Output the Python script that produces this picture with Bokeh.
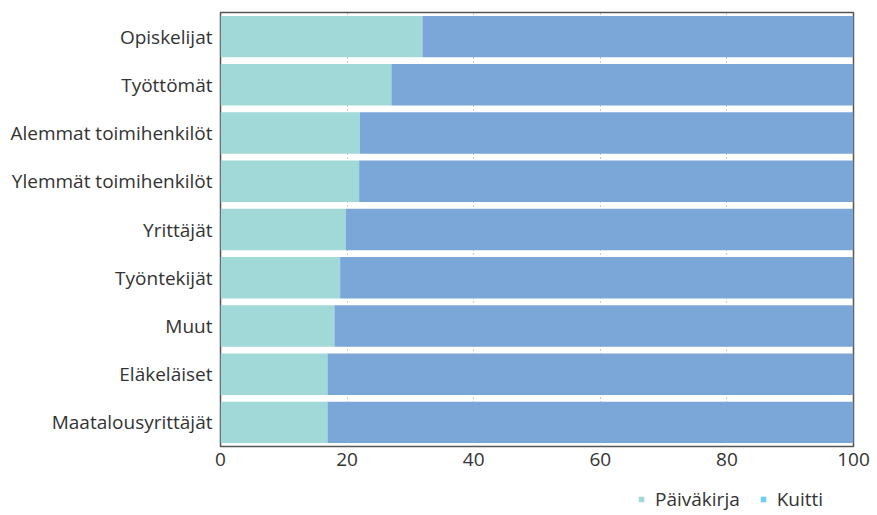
from bokeh.plotting import figure
from bokeh.layouts import column
from bokeh.models import ColumnDataSource, Legend, LegendItem, FactorRange, Range1d, FixedTicker
from bokeh.embed import file_html
from bokeh.resources import INLINE

categories = ["Opiskelijat", "Työttömät", "Alemmat toimihenkilöt", "Ylemmät toimihenkilöt",
              "Yrittäjät", "Työntekijät", "Muut", "Eläkeläiset", "Maatalousyrittäjät"]
paivakirja = [31.9, 27.0, 22.0, 21.9, 19.8, 18.9, 18.0, 16.9, 16.9]
kuitti = [68.1, 73.0, 78.0, 78.1, 80.2, 81.1, 82.0, 83.1, 83.1]
series_names = ["Päiväkirja", "Kuitti"]
x_ticks = [0, 20, 40, 60, 80, 100]

FONT = "Open Sans"
TEAL = "#a0d9d8"
BLUE = "#7ba6d8"
LEG_BLUE = "#6dcff6"

src = ColumnDataSource(dict(
    cat=categories,
    p_end=paivakirja,
    k_start=paivakirja,
    k_end=[a + b for a, b in zip(paivakirja, kuitti)],
))

p = figure(frame_width=633, frame_height=434, output_backend="svg", toolbar_location=None,
           y_range=FactorRange(factors=list(reversed(categories)), range_padding=0),
           x_range=Range1d(0, 100),
           min_border_left=220, min_border_right=24, min_border_top=12, min_border_bottom=38)

p.hbar(y="cat", left=0, right="p_end", height=0.86, source=src,
       fill_color=TEAL, line_color=None)
p.hbar(y="cat", left="k_start", right="k_end", height=0.86, source=src,
       fill_color=BLUE, line_color=None)

p.outline_line_color = "#555555"
p.outline_line_width = 1.5

p.xgrid.ticker = FixedTicker(ticks=x_ticks)
p.xgrid.grid_line_color = "#999999"
p.xgrid.grid_line_dash = "1 3"
p.ygrid.grid_line_color = None

p.xaxis.ticker = FixedTicker(ticks=x_ticks)
p.xaxis.axis_line_color = None
p.xaxis.major_tick_line_color = None
p.xaxis.minor_tick_line_color = None
p.xaxis.major_tick_out = 0
p.xaxis.major_tick_in = 0
p.xaxis.minor_tick_out = 0
p.xaxis.major_label_text_font = FONT
p.xaxis.major_label_text_font_size = "19px"
p.xaxis.major_label_text_color = "#333333"
p.xaxis.major_label_standoff = 6

p.yaxis.axis_line_color = None
p.yaxis.major_tick_line_color = None
p.yaxis.minor_tick_line_color = None
p.yaxis.major_tick_out = 0
p.yaxis.major_label_text_font = FONT
p.yaxis.major_label_text_font_size = "19px"
p.yaxis.major_label_text_color = "#333333"
p.yaxis.major_label_standoff = 8

# separate legend strip below the chart
lf = figure(width=877, height=30, output_backend="svg", toolbar_location=None,
            x_range=Range1d(0, 1), y_range=Range1d(0, 1),
            x_axis_location=None, y_axis_location=None,
            min_border_left=0, min_border_right=0, min_border_top=0, min_border_bottom=0)
lf.outline_line_color = None
lf.xgrid.grid_line_color = None
lf.ygrid.grid_line_color = None

proxy = ColumnDataSource(dict(x=[-10], y=[-10]))
r1 = lf.scatter(x="x", y="y", marker="square", size=10, source=proxy, fill_color=TEAL, line_color=None)
r2 = lf.scatter(x="x", y="y", marker="square", size=10, source=proxy, fill_color=LEG_BLUE, line_color=None)

legend = Legend(items=[LegendItem(label=series_names[0], renderers=[r1]),
                       LegendItem(label=series_names[1], renderers=[r2])],
                orientation="horizontal", location=(410, 2),
                label_text_font=FONT, label_text_font_size="19px", label_text_color="#333333",
                glyph_width=22, glyph_height=14, spacing=12, label_standoff=3,
                padding=0, margin=0, border_line_color=None, background_fill_alpha=0)
lf.add_layout(legend, "center")

layout = column(p, lf, spacing=0)
open("out.html", "w").write(file_html(layout, INLINE))
